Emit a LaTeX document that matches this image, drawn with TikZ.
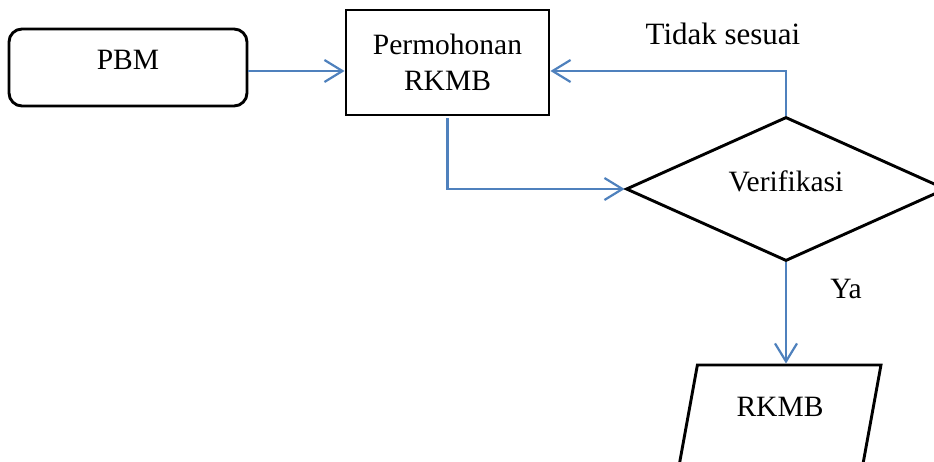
\documentclass[tikz,border=0pt]{standalone}
\usepackage{fontspec}
\setmainfont{Liberation Serif}
\usetikzlibrary{arrows.meta,shapes.geometric}
\definecolor{flowblue}{HTML}{4F81BD}
\tikzset{
  boxline/.style={draw=black, line width=2.9pt},
  startbox/.style={boxline, rectangle, rounded corners=13pt, minimum width=238pt, minimum height=77pt, inner sep=0pt, text depth=15pt},
  procbox/.style={boxline, rectangle, minimum width=203pt, minimum height=105pt, inner sep=0pt, align=center},
  decbox/.style={boxline, diamond, minimum width=320pt, minimum height=144pt, inner sep=0pt, shape aspect=2.2, text depth=16pt},
  iobox/.style={boxline, trapezium, trapezium left angle=75.5, trapezium right angle=104.5, trapezium stretches=true, minimum width=202pt, minimum height=101pt, inner sep=0pt, text depth=18pt},
  flow/.style={draw=flowblue, line width=2.2pt, -{Straight Barb[length=18pt,width=22pt,line width=2.2pt]}},
  lbl/.style={inner sep=0pt},
}
\begin{document}
\begin{tikzpicture}[x=1pt,y=-1pt]
\useasboundingbox (0,0) rectangle (934,462);
\clip (0,0) rectangle (934,462);
\fontsize{29.5}{36}\selectfont
\node[startbox] (pbm) at (128,67.5) {PBM};
\node[procbox] (perm) at (447.5,62.5) {\raisebox{5pt}{\parbox{200pt}{\centering Permohonan\\RKMB}}};
\node[decbox] (ver) at (786,189) {Verifikasi};
\node[iobox] (out) at (780,415.5) {RKMB};
\node[lbl] (tidak) at (723,34) {\fontsize{31}{36}\selectfont Tidak sesuai};
\node[lbl] (ya) at (846,289) {Ya};
\draw[flow] ([yshift=-3.5pt]pbm.east) -- ([yshift=-8.5pt]perm.west);
\draw[flow] (ver.north) |- ([yshift=-8.5pt]perm.east);
\draw[flow] ([yshift=-2pt]perm.south) |- (ver.west);
\draw[flow] (ver.south) -- (ver.south |- out.north);
\end{tikzpicture}
\end{document}
